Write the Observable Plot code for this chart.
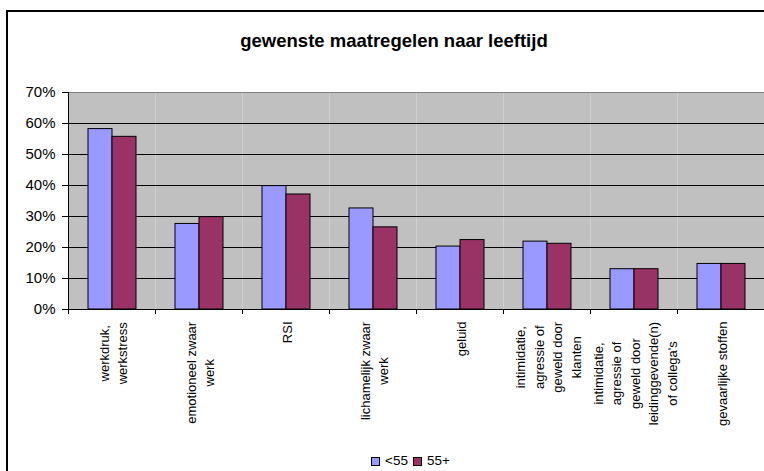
<!DOCTYPE html>
<html>
<head>
<meta charset="utf-8">
<script src="https://cdn.jsdelivr.net/npm/d3@7"></script>
<script src="https://cdn.jsdelivr.net/npm/@observablehq/plot@0.6"></script>
<style>
  html, body { margin: 0; padding: 0; background: #fff; overflow: hidden; }
  #wrap { position: relative; width: 764px; height: 471px; font-family: Arial, "Liberation Sans", sans-serif; overflow: hidden; }
  #border { position: absolute; left: 6px; top: 10px; width: 900px; height: 600px; border-left: 2px solid #000; border-top: 2px solid #000; box-sizing: border-box; }
  #chart { position: absolute; left: 0; top: 0; width: 764px; }
  #title { position: absolute; left: 0; top: 30px; width: 788px; text-align: center; font-weight: bold; font-size: 18.5px; line-height: 22px; color: #000; }
  #legend { position: absolute; left: 371px; top: 453px; font-size: 13.5px; line-height: 16px; color: #000; white-space: nowrap; }
  #legend .item { display: inline-flex; align-items: center; margin-right: 5px; }
  #legend .sw { display: inline-block; width: 7px; height: 7px; border: 1px solid #000; margin-right: 5px; }
</style>
</head>
<body>
<div id="wrap">
  <div id="border"></div>
  <div id="chart"></div>
  <div id="title">gewenste maatregelen naar leeftijd</div>
  <div id="legend"></div>
</div>
<script>
// ---- data ----
const categories = [
  "werkdruk,\nwerkstress",
  "emotioneel zwaar\nwerk",
  "RSI",
  "lichamelijk zwaar\nwerk",
  "geluid",
  "intimidatie,\nagressie of\ngeweld door\nklanten",
  "intimidatie,\nagressie of\ngeweld door\nleidinggevende(n)\nof collega's",
  "gevaarlijke stoffen"
];
const series = ["<55", "55+"];
const valuesUnder55 = [0.582, 0.276, 0.398, 0.326, 0.203, 0.219, 0.130, 0.147];
const values55plus  = [0.557, 0.298, 0.371, 0.265, 0.224, 0.212, 0.130, 0.147];
const yTicks = [0, 0.1, 0.2, 0.3, 0.4, 0.5, 0.6, 0.7];
const seriesColors = ["#9999FF", "#993366"];

const data = categories.flatMap((c, i) => [
  {category: c, series: series[0], value: valuesUnder55[i]},
  {category: c, series: series[1], value: values55plus[i]}
]);

const pct = d3.format(".0%");

const chart = Plot.plot({
  width: 764,
  height: 471,
  marginTop: 92,
  marginLeft: 68,
  marginRight: 0,
  marginBottom: 162,
  style: {fontFamily: "Arial, 'Liberation Sans', sans-serif", background: "transparent", color: "#000"},
  fx: {domain: categories, padding: 0, label: null},
  x: {domain: series, paddingInner: 0, paddingOuter: 0.742, axis: null},
  y: {domain: [0, 0.7], label: null},
  color: {domain: series, range: seriesColors},
  marks: [
    Plot.frame({fill: "#C0C0C0", stroke: "none"}),
    Plot.ruleY(yTicks.slice(1, -1), {stroke: "#000", strokeWidth: 1}),
    Plot.ruleY(yTicks.slice(-1), {stroke: "#808080", strokeWidth: 1}),
    Plot.barY(data, {fx: "category", x: "series", y: "value", fill: "series", stroke: "#000", strokeWidth: 1}),
    Plot.ruleY([0], {stroke: "#000", strokeWidth: 1}),
    Plot.axisY({anchor: "left", ticks: yTicks, tickFormat: pct, tickSize: 6, tickPadding: 7, fontSize: 15, label: null}),
    Plot.axisFx({anchor: "bottom", tickSize: 0, tickRotate: -90, tickPadding: 12, fontSize: 13, lineHeight: 1.42, label: null})
  ]
});

document.getElementById("chart").appendChild(chart);

// ---- post-processing using the library's scales ----
const svg = d3.select(chart);
const fx = chart.scale("fx");
const y = chart.scale("y");
const y0 = y.apply(0);
const yTop = y.apply(0.7);
const xStart = fx.apply(categories[0]);
const bounds = categories.map(c => fx.apply(c));
bounds.push(fx.apply(categories[categories.length - 1]) + fx.bandwidth);

const g = svg.append("g").attr("stroke", "#000").attr("stroke-width", 1);
g.append("line").attr("x1", xStart + 0.5).attr("x2", xStart + 0.5).attr("y1", yTop).attr("y2", y0 + 0.5);
bounds.forEach(b => {
  g.append("line").attr("x1", b + 0.5).attr("x2", b + 0.5).attr("y1", y0).attr("y2", y0 + 5);
});

svg.selectAll('g[aria-label="fx-axis tick label"] text').each(function() {
  const w = this.getBBox().width;
  const t = d3.select(this);
  const tspans = t.selectAll("tspan");
  t.attr("text-anchor", "middle");
  if (tspans.size()) tspans.attr("x", -w / 2);
  else t.attr("x", -w / 2);
});

// ---- legend ----
const legend = d3.select("#legend");
series.forEach((s, i) => {
  const item = legend.append("span").attr("class", "item");
  item.append("span").attr("class", "sw").style("background", seriesColors[i]);
  item.append("span").text(s);
});
</script>
</body>
</html>
